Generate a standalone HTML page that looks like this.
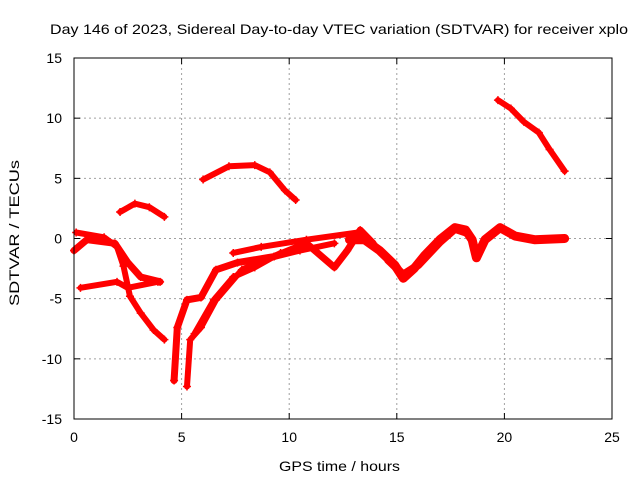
<!DOCTYPE html>
<html><head><meta charset="utf-8"><style>
body{margin:0;background:#fff;}
svg{display:block;font-family:"Liberation Sans",sans-serif;font-size:14px;}
</style></head><body>
<svg id="c" width="640" height="480" xmlns="http://www.w3.org/2000/svg">
<rect width="640" height="480" fill="#fff"/>
<text x="50" y="34" textLength="578" lengthAdjust="spacingAndGlyphs">Day 146 of 2023, Sidereal Day-to-day VTEC variation (SDTVAR) for receiver xplo</text>
<text x="279" y="471" textLength="121" lengthAdjust="spacingAndGlyphs">GPS time / hours</text>
<text transform="translate(19,306) rotate(-90)" textLength="146" lengthAdjust="spacingAndGlyphs">SDTVAR / TECUs</text>
<g id="grid"></g><g id="series"></g>
<rect x="74" y="58" width="538" height="361" fill="none" stroke="#000"/>
<g id="ticks"></g>
</svg>
<script>
const xTicks=[0,5,10,15,20,25];
const yTicks=[-15,-10,-5,0,5,10,15];
const trackA_t=[2.14,2.83,3.5,4.2]; const trackA_v=[2.2,2.9,2.6,1.8];
const trackB_t=[6.0,7.2,8.4,9.1,9.8,10.3]; const trackB_v=[4.9,6.0,6.1,5.5,4.0,3.2];
const trackC_t=[19.7,20.3,20.9,21.6,22.1,22.8]; const trackC_v=[11.5,10.8,9.7,8.8,7.4,5.6];
const trackD_t=[0.3,2.0,2.5,3.9]; const trackD_v=[-4.1,-3.6,-4.1,-3.6];
const trackE_t=[0.1,1.4,2.0,2.3,2.6,3.1,3.7,4.2]; const trackE_v=[0.5,0.1,-0.7,-2.3,-4.8,-6.2,-7.6,-8.4];
const trackF_t=[0,0.6,1.9,2.5,3.1,4.0]; const trackF_v=[-1,-0.1,-0.4,-2.0,-3.2,-3.6];
const trackG_t=[4.65,4.8,5.25,5.9,6.6,7.6,9.3,10.8,12.1,12.7,13.3,13.9]; const trackG_v=[-11.8,-7.4,-5.1,-4.9,-2.6,-2.0,-1.5,-0.4,-2.4,-1.0,0.7,-0.4];
const trackH_t=[5.25,5.4,5.9,6.6,7.8,8.7,10.5,12.1]; const trackH_v=[-12.3,-8.4,-7.4,-5.1,-2.6,-1.8,-1.0,-0.4];
const trackI_t=[5.6,6.5,7.4,8.4,9.6]; const trackI_v=[-7.9,-5.1,-3.2,-2.4,-1.2];
const trackJ_t=[7.4,8.7,10.8,13.2]; const trackJ_v=[-1.2,-0.7,-0.1,0.5];
const trackK_t=[12.8,13.5,14.2,14.9,15.3,15.8,16.3,17.0,17.7,18.2,18.5,18.7,19.1,19.8,20.5,21.4,22.8]; const trackK_v=[-0.1,-0.1,-1.0,-2.2,-3.3,-2.5,-1.4,-0.1,0.9,0.7,-0.1,-1.6,-0.1,0.9,0.2,-0.1,0.0];
const trackL_t=[14.6,15.3,16.0,17.0,17.7,18.2]; const trackL_v=[-1.8,-3.0,-2.2,-0.3,0.8,0.5];
const X=t=>74+t*(538/25), Y=v=>238.5-v*(361/30);
const NS="http://www.w3.org/2000/svg";
const mk=(tag,at,p)=>{const e=document.createElementNS(NS,tag);for(const k in at)e.setAttribute(k,at[k]);p.appendChild(e);return e;};
const grid=document.getElementById('grid'),ticks=document.getElementById('ticks'),ser=document.getElementById('series');
xTicks.forEach(t=>{
 if(t>0&&t<25){const g=mk('line',{x1:X(t),x2:X(t),y1:58,y2:419,stroke:'#a0a0a0','stroke-dasharray':'2,3'},grid);
 
 }
 mk('line',{x1:X(t),x2:X(t),y1:419,y2:413,stroke:'#000'},ticks);
 mk('line',{x1:X(t),x2:X(t),y1:58,y2:64,stroke:'#000'},ticks);
 const l=mk('text',{x:X(t),y:442,'text-anchor':'middle'},ticks);l.textContent=t;
 
 
});
yTicks.forEach(v=>{
 if(v>-15&&v<15){const g=mk('line',{x1:74,x2:612,y1:Y(v),y2:Y(v),stroke:'#a0a0a0','stroke-dasharray':'2,3'},grid);
 
 }
 mk('line',{x1:74,x2:80,y1:Y(v),y2:Y(v),stroke:'#000'},ticks);
 mk('line',{x1:612,x2:606,y1:Y(v),y2:Y(v),stroke:'#000'},ticks);
 const l=mk('text',{x:62,y:Y(v)+5,'text-anchor':'end'},ticks);l.textContent=v;
 
 
});
const tracks=[[trackA_t,trackA_v,6],[trackB_t,trackB_v,6],[trackC_t,trackC_v,6],[trackD_t,trackD_v,6],[trackE_t,trackE_v,6],[trackF_t,trackF_v,7],[trackG_t,trackG_v,7],[trackH_t,trackH_v,6],[trackI_t,trackI_v,6],[trackJ_t,trackJ_v,6],[trackK_t,trackK_v,9],[trackL_t,trackL_v,8]];
tracks.forEach(([ts,vs,w])=>{
 const pts=ts.map((t,i)=>X(t)+','+Y(vs[i])).join(' ');
 const p=mk('polyline',{points:pts,fill:'none',stroke:'#ff0000','stroke-width':w,'stroke-linejoin':'round','stroke-linecap':'round'},ser);
 
 
 ts.forEach((t,i)=>{const x=X(t),y=Y(vs[i]);
  const m=mk('path',{d:`M${x-4},${y}H${x+4}M${x},${y-4}V${y+4}`,stroke:'#ff0000','stroke-width':1.5},ser);
  
  });
});
</script>
</body></html>
